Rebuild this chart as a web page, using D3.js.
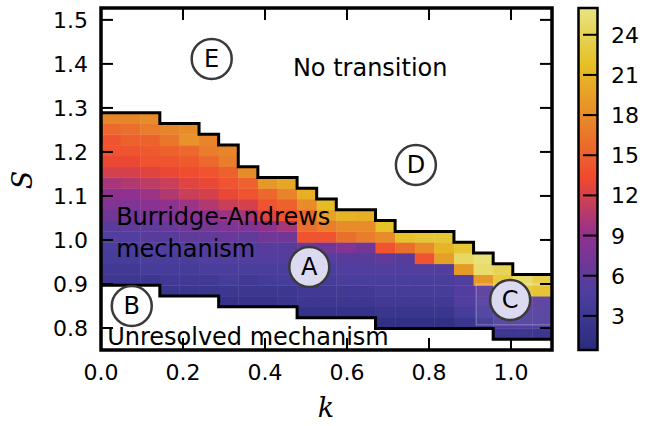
<!DOCTYPE html>
<html><head><meta charset="utf-8">
<script src="https://cdn.jsdelivr.net/npm/d3@7"></script>
<style>body{margin:0;background:#fff}svg{display:block}text{font-family:"DejaVu Sans",sans-serif}</style>
</head><body><svg id="c" width="651" height="426"></svg>
<script>
// ---- data ----
const kDomain = [0, 1.1];
const sDomain = [0.75, 1.527];
const nK = 23;                 // columns spanning k 0..1.1
const sStart = 0.75, sStep = 0.0245;   // row grid in S
const xTicks = [0.0, 0.2, 0.4, 0.6, 0.8, 1.0];
const yTicks = [0.8, 0.9, 1.0, 1.1, 1.2, 1.3, 1.4, 1.5];
const cbTicks = [3, 6, 9, 12, 15, 18, 21, 24];
const cbDomain = [0.45, 26.0];
const cmapColors = ["#2a2b7c", "#4c3f9f", "#8f3190", "#f04830", "#e8842a", "#e6bf24", "#e7e582"];
// lowest row index per k column
const colBottom = [6,6,6,5,5,5,4,4,4,4,3,3,3,3,2,2,2,2,2,2,1,1,1];
// values per column, from lowest row upward
const colValues = [
  [3,3.5,4,4.5,5,5.5,7,8,9,10,12,13,14,14,15.5,17.5],
  [3,3.5,4,4.5,5,6,7,8,9,10.5,12,13,14,15,16,17.5],
  [3,4,4.5,5,5.5,6,7.5,8.5,9.5,11,12.5,14,14.5,15,17,18],
  [2.5,3.5,4,4.5,5,5.5,6.5,8,9,10.5,11.5,13,14,15,16.5,17.5],
  [2.5,3.5,4,4.5,5,6,7,8.5,9.5,11.5,12.5,13.5,14.5,15.5,18.5,18],
  [2.5,3.5,4.5,5,5,6,7.5,9,10.5,12,13,14,15.5,17,17.5],
  [2.2,3,4,4.5,5,5.5,6.5,8,9.5,11.5,13,14,15,17,17.5],
  [2.2,3,3.5,4.5,5,5,6,8,10,12,14,15,18],
  [2.2,3,3.8,4.5,5,5.5,7,9,12.5,14,15.5,19],
  [2.5,3,4,4.5,5,5.5,7,10,14,15,17.5,20],
  [2,3,3.5,4,4.5,5,7,14,16,15.5,18,20.5],
  [2,3,3.5,4,4.5,5,7,14,17,19.5,21.5],
  [2,3,3.5,4.5,5,5.5,8,16,18,21],
  [2,3,3.5,4.5,5,5.5,7,17,18,20.5],
  [1.5,2.5,3.5,4,4.5,5,6,14,18,22],
  [1.5,2.5,3.5,4,4.5,5,5.5,16,22],
  [1.5,2.5,3.5,4,4.5,5,14,18,22.5],
  [1.5,2.5,3.5,4,4.5,5,19.5,21,22.5],
  [2.5,4,5,5,5,19,24.5,22.5],
  [3,4.5,5,5.5,19,25,25.5],
  [3,5,5,5.5,20,23,24],
  [3,5,5,5.5,22.5,25],
  [3,5,5,5.5,22,23.5]
];
const regionLabels = [
  {t:"A", k:0.508, s:0.9386, fill:"#dcdaf0"},
  {t:"B", k:0.075, s:0.850, fill:"#ffffff"},
  {t:"C", k:0.998, s:0.8636, fill:"#dcdaf0"},
  {t:"D", k:0.768, s:1.1705, fill:"#ffffff"},
  {t:"E", k:0.27, s:1.4114, fill:"#ffffff"}
];
const texts = [
  {t:"No transition", k:0.468, s:1.3727},
  {t:"Burridge-Andrews", k:0.037, s:1.034},
  {t:"mechanism", k:0.037, s:0.9614},
  {t:"Unresolved mechanism", k:0.015, s:0.7614}
];

// ---- drawing ----
const svg = d3.select("#c");
const x = d3.scaleLinear().domain(kDomain).range([101, 552]);
const y = d3.scaleLinear().domain(sDomain).range([350, 8]);
const cScale = d3.scaleLinear()
  .domain(cmapColors.map((c,i)=>cbDomain[0] + i*(cbDomain[1]-cbDomain[0])/(cmapColors.length-1)))
  .range(cmapColors).interpolate(d3.interpolateRgb).clamp(true);
const kW = (kDomain[1]-kDomain[0])/nK;

const cells = [];
colValues.forEach((vals, i) => {
  vals.forEach((v, r) => {
    const j = colBottom[i] + r;
    cells.push({i, j, v});
  });
});
const g = svg.append("g");
g.selectAll("rect.cell").data(cells).enter().append("rect")
  .attr("x", d => x(d.i*kW))
  .attr("width", d => x((d.i+1)*kW) - x(d.i*kW) + 0.4)
  .attr("y", d => y(sStart + (d.j+1)*sStep))
  .attr("height", d => y(sStart + d.j*sStep) - y(sStart + (d.j+1)*sStep) + 0.4)
  .attr("fill", d => cScale(d.v));

// faint pale patch near C (as in reference)
svg.append("rect").attr("x", x(0.915)).attr("y", y(0.9)).attr("width", x(1.1)-x(0.915)).attr("height", y(0.807)-y(0.9))
  .attr("fill","#ffffff").attr("fill-opacity",0.06).attr("stroke","#ffffff").attr("stroke-opacity",0.35).attr("stroke-width",1);

// outline staircases
function stair(rowFn) {
  let p = [];
  colValues.forEach((vals,i) => {
    const yy = y(rowFn(i, vals));
    p.push([x(i*kW), yy], [x((i+1)*kW), yy]);
  });
  return d3.line()(p);
}
svg.append("path").attr("d", stair((i,v)=> sStart + (colBottom[i]+v.length)*sStep))
  .attr("fill","none").attr("stroke","#000").attr("stroke-width",3).attr("stroke-linejoin","miter");
svg.append("path").attr("d", stair((i,v)=> sStart + colBottom[i]*sStep))
  .attr("fill","none").attr("stroke","#000").attr("stroke-width",3);

// region circles
const lg = svg.append("g");
regionLabels.forEach(d => {
  lg.append("circle").attr("cx", x(d.k)).attr("cy", y(d.s)).attr("r", 20)
    .attr("fill", d.fill).attr("stroke","#3a3a3a").attr("stroke-width",2.5);
  lg.append("text").attr("x", x(d.k)).attr("y", y(d.s)+8.5).attr("text-anchor","middle")
    .attr("font-size",24).text(d.t);
});
texts.forEach(d => {
  svg.append("text").attr("x", x(d.k)).attr("y", y(d.s)).attr("font-size",24).text(d.t);
});

// frame & ticks
svg.append("rect").attr("x",101).attr("y",8).attr("width",451).attr("height",342)
  .attr("fill","none").attr("stroke","#000").attr("stroke-width",3.5);
const tl = 12;
xTicks.forEach(t => {
  const xx = x(t);
  svg.append("line").attr("x1",xx).attr("x2",xx).attr("y1",350).attr("y2",350-tl).attr("stroke","#000").attr("stroke-width",2);
  svg.append("line").attr("x1",xx).attr("x2",xx).attr("y1",8).attr("y2",8+tl).attr("stroke","#000").attr("stroke-width",2);
  svg.append("text").attr("x",xx).attr("y",380).attr("text-anchor","middle").attr("font-size",22).text(t.toFixed(1));
});
yTicks.forEach(t => {
  const yy = y(t);
  svg.append("line").attr("x1",101).attr("x2",101+tl).attr("y1",yy).attr("y2",yy).attr("stroke","#000").attr("stroke-width",2);
  svg.append("line").attr("x1",552).attr("x2",552-tl).attr("y1",yy).attr("y2",yy).attr("stroke","#000").attr("stroke-width",2);
  svg.append("text").attr("x",88).attr("y",yy+8).attr("text-anchor","end").attr("font-size",22).text(t.toFixed(1));
});
svg.append("text").attr("x",326).attr("y",417).attr("text-anchor","middle")
  .attr("font-size",27).attr("font-style","italic").style("font-family","'DejaVu Serif',serif").text("k");
svg.append("text").attr("transform","translate(32,180) rotate(-90)").attr("text-anchor","middle")
  .attr("font-size",27).attr("font-style","italic").style("font-family","'DejaVu Serif',serif").text("S");

// colorbar
const cy = d3.scaleLinear().domain(cbDomain).range([350, 8]);
const defs = svg.append("defs");
const grad = defs.append("linearGradient").attr("id","cb").attr("x1",0).attr("x2",0).attr("y1",1).attr("y2",0);
d3.range(0, 1.0001, 0.02).forEach(f => {
  grad.append("stop").attr("offset", f).attr("stop-color", cScale(cbDomain[0] + f*(cbDomain[1]-cbDomain[0])));
});
svg.append("rect").attr("x",578.5).attr("y",8).attr("width",19).attr("height",342)
  .attr("fill","url(#cb)").attr("stroke","#000").attr("stroke-width",2.5);
cbTicks.forEach(t => {
  const yy = cy(t);
  svg.append("line").attr("x1",583).attr("x2",597.5).attr("y1",yy).attr("y2",yy).attr("stroke","#000").attr("stroke-width",2);
  svg.append("text").attr("x",611).attr("y",yy+8).attr("font-size",22).text(t);
});
</script></body></html>
